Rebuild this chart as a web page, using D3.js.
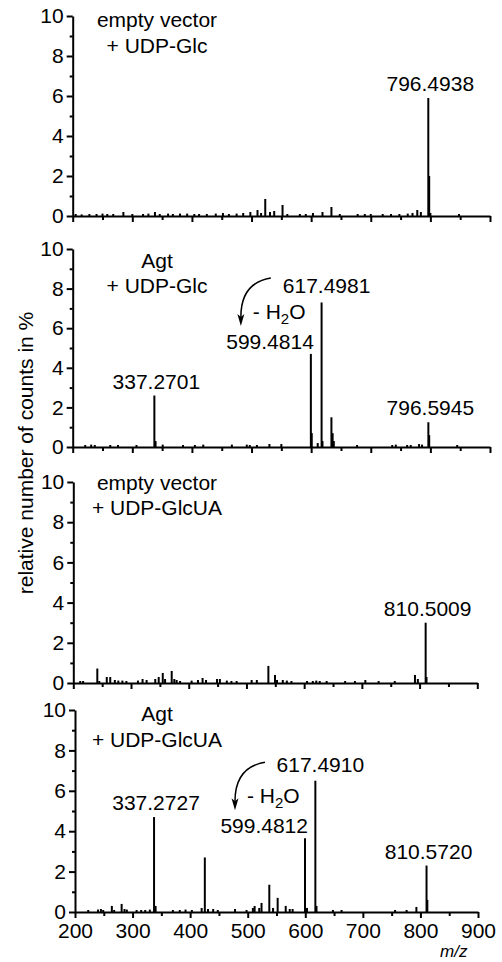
<!DOCTYPE html>
<html>
<head>
<meta charset="utf-8">
<script src="https://cdn.jsdelivr.net/npm/d3@7"></script>
<style>
  body { margin: 0; background: #fff; }
  text { font-family: "Liberation Sans", Arial, sans-serif; }
</style>
</head>
<body>
<script>
//Data - [m/z, relative counts %]
    const peaksEmptyGlc = [
        [205,0.1],[215,0.08],[228,0.1],[240,0.1],[250,0.12],[258,0.1],[268,0.1],[285,0.2],[300,0.1],
        [318,0.1],[327,0.12],[338,0.2],[346,0.1],[360,0.12],[368,0.1],[380,0.12],[392,0.12],[404,0.1],
        [412,0.1],[425,0.1],[440,0.12],[452,0.15],[462,0.1],[475,0.12],[486,0.15],[498,0.2],[510,0.3],
        [516,0.15],[523,0.85],[531,0.2],[538,0.25],[552,0.55],[560,0.1],[581,0.1],[591,0.1],[603,0.15],
        [619,0.2],[634,0.45],[648,0.1],[678,0.1],[690,0.1],[700,0.1],[720,0.1],[734,0.1],[748,0.1],
        [762,0.12],[770,0.15],[778,0.3],[784,0.2],[796.5,5.9],[798,2.0],[800,0.15],[848,0.1]
    ];
    const peaksAgtGlc = [
        [221,0.1],[231,0.12],[237,0.1],[263,0.1],[276,0.1],[307,0.1],[337,2.6],[339,0.3],[351,0.12],
        [385,0.1],[405,0.1],[419,0.12],[467,0.12],[492,0.12],[497,0.1],[509,0.1],[530,0.15],[550,0.15],
        [599.5,4.7],[601,0.7],[611,0.2],[617.5,7.3],[619,0.3],[634,1.5],[636,0.7],[638,0.3],[677,0.1],
        [736,0.1],[742,0.12],[761,0.1],[767,0.1],[781,0.15],[786,0.12],[796.6,1.25],[798,0.6],[845,0.1]
    ];
    const peaksEmptyGlcUA = [
        [212,0.1],[217,0.1],[241.6,0.72],[245,0.1],[258,0.3],[264,0.3],[272,0.15],[278,0.12],[285,0.12],
        [292,0.1],[312,0.12],[320,0.2],[327,0.15],[342,0.2],[348,0.3],[355,0.5],[359,0.2],[370.5,0.6],
        [375,0.2],[379,0.15],[385,0.1],[405,0.12],[416,0.15],[424,0.25],[430,0.15],[449,0.2],[454,0.2],
        [466,0.12],[474,0.1],[483,0.1],[509,0.15],[518,0.15],[538,0.85],[549.5,0.4],[553,0.15],[563,0.15],
        [570,0.12],[578,0.1],[605,0.1],[615,0.1],[621,0.12],[627,0.1],[639,0.1],[671,0.1],[688,0.1],
        [706,0.15],[729,0.1],[757,0.1],[792,0.4],[797,0.2],[810.5,3.0],[812,0.3]
    ];
    const peaksAgtGlcUA = [
        [223,0.1],[240,0.12],[245,0.15],[249,0.1],[264,0.3],[268,0.1],[281,0.4],[286,0.15],[290,0.12],
        [307,0.1],[315,0.1],[322,0.1],[330,0.12],[337.3,4.7],[340,0.3],[370,0.1],[382,0.1],[392,0.12],
        [403,0.1],[420,0.2],[425.5,2.7],[431,0.15],[440,0.15],[448,0.1],[478,0.15],[498,0.1],[509,0.2],
        [512,0.3],[520,0.2],[524,0.45],[537.5,1.35],[544,0.2],[552,0.7],[566,0.3],[573,0.15],[578,0.15],
        [599.5,3.65],[603,0.2],[617.5,6.5],[619.5,0.3],[648,0.1],[663,0.1],[756,0.1],[776,0.1],[793,0.25],
        [810.6,2.3],[812,0.6]
    ];

//Annotations - [m/z of labelled peak, text]
    const labelsEmptyGlc = [[796.5, "796.4938"]];
    const labelsAgtGlc = [[337, "337.2701"], [599.5, "599.4814"], [617.5, "617.4981"], [796.6, "796.5945"]];
    const labelsEmptyGlcUA = [[810.5, "810.5009"]];
    const labelsAgtGlcUA = [[337.3, "337.2727"], [599.5, "599.4812"], [617.5, "617.4910"], [810.6, "810.5720"]];

//water loss pair: [product, precursor]
    const waterAgtGlc = [599.5, 617.5];
    const waterAgtGlcUA = [599.5, 617.5];

    const titles = [
        ["empty vector", "+ UDP-Glc"],
        ["Agt", "+ UDP-Glc"],
        ["empty vector", "+ UDP-GlcUA"],
        ["Agt", "+ UDP-GlcUA"]
    ];

    const xMajor = d3.range(200, 901, 100);
    const xMinor = d3.range(250, 900, 100);
    const yMajor = d3.range(0, 11, 2);
    const yMinor = d3.range(1, 10, 2);

//Layout
    const width = 502;
    const height = 962;
    const fontSize = 21;

    const panels = [
        {peaks: peaksEmptyGlc, labels: labelsEmptyGlc, water: null, title: titles[0], xr: [72.7, 490], yr: [216, 16], t: [27, 53], xText: false},
        {peaks: peaksAgtGlc, labels: labelsAgtGlc, water: waterAgtGlc, title: titles[1], xr: [72.7, 490], yr: [447, 249], t: [268, 293], xText: false},
        {peaks: peaksEmptyGlcUA, labels: labelsEmptyGlcUA, water: null, title: titles[2], xr: [73.3, 477.3], yr: [683, 482], t: [490, 515], xText: false},
        {peaks: peaksAgtGlcUA, labels: labelsAgtGlcUA, water: waterAgtGlcUA, title: titles[3], xr: [75, 478], yr: [912, 710], t: [721, 747], xText: true}
    ];

//SVG
    const svg = d3.select("body")
                .append("svg")
                .attr("width", width)
                .attr("height", height);

    function styleAxis(g) {
        g.attr("font-size", fontSize)
         .attr("font-family", "Liberation Sans, Arial, sans-serif");
        g.selectAll("path, line").attr("stroke", "#000").attr("stroke-width", 2);
        g.selectAll("text").attr("fill", "#000");
    }

    panels.forEach(p => {
        const xScale = d3.scaleLinear().domain([200, 900]).range(p.xr);
        const yScale = d3.scaleLinear().domain([0, 10]).range(p.yr);
        const g = svg.append("g");
        const valueAt = mz => p.peaks.find(d => d[0] === mz)[1];

        //peaks as sticks
        g.selectAll("line.peak")
            .data(p.peaks)
            .enter()
            .append("line")
            .attr("class", "peak")
            .attr("x1", d => xScale(d[0]))
            .attr("x2", d => xScale(d[0]))
            .attr("y1", yScale(0))
            .attr("y2", d => yScale(d[1]))
            .attr("stroke", "#000")
            .attr("stroke-width", 2);

        //y axis
        g.append("g")
            .attr("transform", "translate(" + p.xr[0] + ",0)")
            .call(d3.axisLeft(yScale).tickValues(yMinor).tickSize(3).tickFormat(""))
            .call(a => a.select(".domain").remove())
            .call(styleAxis);
        g.append("g")
            .attr("transform", "translate(" + p.xr[0] + ",0)")
            .call(d3.axisLeft(yScale).tickValues(yMajor).tickSize(6).tickSizeOuter(0).tickPadding(3).tickFormat(d3.format("d")))
            .call(styleAxis);

        //x axis
        g.append("g")
            .attr("transform", "translate(0," + p.yr[0] + ")")
            .call(d3.axisBottom(xScale).tickValues(xMinor).tickSize(4).tickFormat(""))
            .call(a => a.select(".domain").remove())
            .call(styleAxis);
        g.append("g")
            .attr("transform", "translate(0," + p.yr[0] + ")")
            .call(d3.axisBottom(xScale).tickValues(xMajor).tickSize(6).tickSizeOuter(0).tickPadding(5)
                  .tickFormat(p.xText ? d3.format("d") : ""))
            .call(styleAxis);

        //sample titles
        p.title.forEach((t, i) => {
            g.append("text")
                .attr("x", 157)
                .attr("y", p.t[i])
                .attr("text-anchor", "middle")
                .attr("font-size", fontSize)
                .text(t);
        });

        //peak labels
        p.labels.forEach(([mz, txt]) => {
            const px = xScale(mz);
            const py = yScale(valueAt(mz));
            let anchor = "middle", dx = 2, gap = 7;
            if (p.water && mz === p.water[0]) { anchor = "end"; dx = 3; gap = 5; }
            if (p.water && mz === p.water[1]) { dx = 5; gap = 9; }
            g.append("text")
                .attr("x", px + dx)
                .attr("y", py - gap)
                .attr("text-anchor", anchor)
                .attr("font-size", fontSize)
                .text(txt);
        });

        //water loss arrow
        if (p.water) {
            const px = xScale(p.water[0]);
            const base = yScale(valueAt(p.water[0])) - 5;
            g.append("path")
                .attr("d", "M" + (px - 40) + "," + (base - 71) +
                           " Q" + (px - 70) + "," + (base - 66) + " " + (px - 70) + "," + (base - 32))
                .attr("fill", "none")
                .attr("stroke", "#000")
                .attr("stroke-width", 1.5);
            g.append("path")
                .attr("d", "M" + (px - 70) + "," + (base - 23) +
                           " L" + (px - 73.5) + "," + (base - 35) +
                           " L" + (px - 70) + "," + (base - 32) +
                           " L" + (px - 66.5) + "," + (base - 35) + "Z")
                .attr("fill", "#000");
            const h = g.append("text")
                .attr("x", px - 58)
                .attr("y", base - 30)
                .attr("font-size", fontSize);
            h.append("tspan").text("- H");
            h.append("tspan").attr("font-size", 15).attr("dy", 5).text("2");
            h.append("tspan").attr("dy", -5).text("O");
        }
    });

//Axis titles
    svg.append("text")
        .attr("transform", "translate(33,453) rotate(-90)")
        .attr("text-anchor", "middle")
        .attr("font-size", fontSize)
        .text("relative number of counts in %");

    svg.append("text")
        .attr("x", 440)
        .attr("y", 957)
        .attr("font-size", 17)
        .attr("font-style", "italic")
        .text("m/z");
</script>
</body>
</html>
